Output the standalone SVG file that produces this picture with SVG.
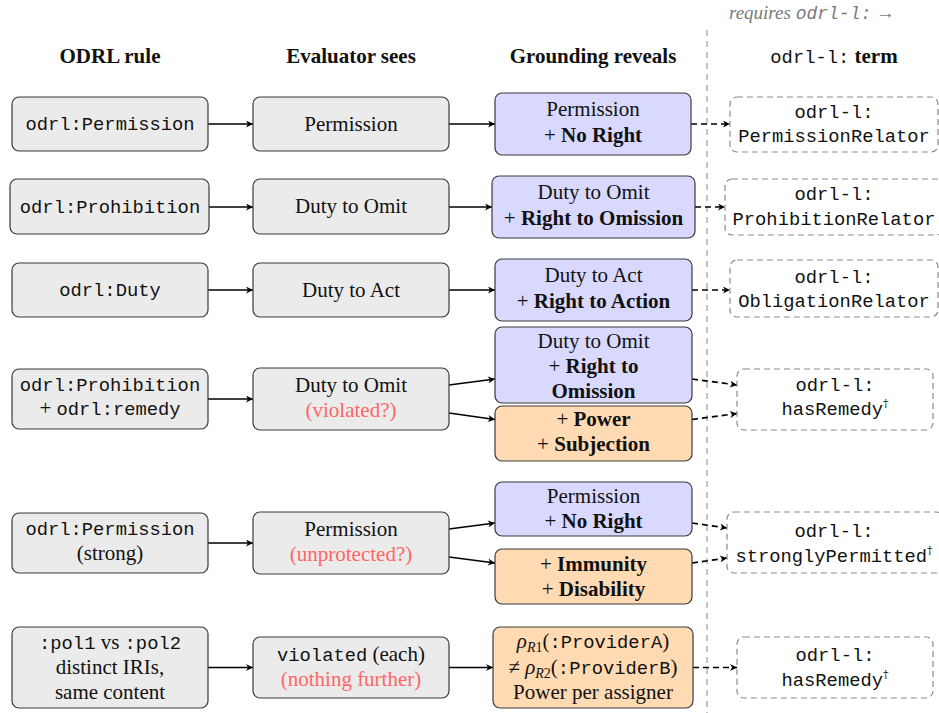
<svg xmlns="http://www.w3.org/2000/svg" width="939" height="713" viewBox="0 0 939 713">
<defs>
<style>
.g{fill:#ebebeb;stroke:#3a3a3a;stroke-width:1.2}
.b{fill:#d9d9ff;stroke:#3a3a3a;stroke-width:1.2}
.o{fill:#ffdab3;stroke:#3a3a3a;stroke-width:1.2}
.t{fill:#ffffff;stroke:#8a8a8a;stroke-width:1.2;stroke-dasharray:6 4}
.s{font-family:"Liberation Serif","Times New Roman",serif;font-size:21px;fill:#111;text-anchor:middle}
.m{font-family:"Liberation Mono","Courier New",monospace;font-size:18.8px;fill:#111;text-anchor:middle}
.mm{font-family:"Liberation Mono","Courier New",monospace;font-size:18.8px}
.bd{font-weight:bold}
.red{fill:#ff6666}
.h{font-family:"Liberation Serif","Times New Roman",serif;font-size:21px;font-weight:bold;fill:#111;text-anchor:middle}
.sup{font-family:"DejaVu Serif",serif;font-size:11px;fill:#111}
.c{fill:none;stroke:#000;stroke-width:1.7}
.d{fill:none;stroke:#000;stroke-width:1.7;stroke-dasharray:6 4}
</style>
<marker id="ah" viewBox="0 0 10 10" refX="10" refY="5" markerWidth="9" markerHeight="7" markerUnits="userSpaceOnUse" orient="auto">
<path d="M0,0 L10,5 L0,10 L3,5 z" fill="#000"/>
</marker>
</defs>
<rect width="939" height="713" fill="#ffffff"/>

<g id="headers">
<text class="h" x="110" y="63">ODRL rule</text>
<text class="h" x="351" y="63">Evaluator sees</text>
<text class="h" x="593" y="63">Grounding reveals</text>
<text class="s" x="834" y="63"><tspan class="mm">odrl-l:</tspan><tspan class="bd"> term</tspan></text>
<text x="812" y="19" style="font-family:'Liberation Serif',serif;font-size:19px;font-style:italic;fill:#7a7a7a;text-anchor:middle">requires <tspan style="font-family:'Liberation Mono',monospace;font-size:18px">odrl-l:</tspan> →</text>
</g>

<line id="divider" x1="707" y1="30" x2="707" y2="713" stroke="#8a8a8a" stroke-width="1" stroke-dasharray="6 5"/>

<g id="connectors">
<line class="c" x1="208" y1="124" x2="253" y2="124" marker-end="url(#ah)"/>
<line class="c" x1="449" y1="124" x2="495" y2="124" marker-end="url(#ah)"/>
<line class="d" x1="691" y1="124" x2="730" y2="124" marker-end="url(#ah)"/>

<line class="c" x1="209" y1="207" x2="253" y2="207" marker-end="url(#ah)"/>
<line class="c" x1="449" y1="207" x2="492" y2="207" marker-end="url(#ah)"/>
<line class="d" x1="695" y1="207" x2="725" y2="207" marker-end="url(#ah)"/>

<line class="c" x1="208" y1="290" x2="253" y2="290" marker-end="url(#ah)"/>
<line class="c" x1="449" y1="290" x2="495" y2="290" marker-end="url(#ah)"/>
<line class="d" x1="692" y1="290" x2="730" y2="290" marker-end="url(#ah)"/>

<line class="c" x1="208" y1="399" x2="253" y2="399" marker-end="url(#ah)"/>
<line class="c" x1="449" y1="385" x2="495" y2="379" marker-end="url(#ah)"/>
<line class="c" x1="449" y1="413" x2="495" y2="419.5" marker-end="url(#ah)"/>
<line class="d" x1="692" y1="379" x2="737" y2="385" marker-end="url(#ah)"/>
<line class="d" x1="692" y1="419.5" x2="737" y2="413.5" marker-end="url(#ah)"/>

<line class="c" x1="208" y1="543" x2="253" y2="543" marker-end="url(#ah)"/>
<line class="c" x1="449" y1="529" x2="495" y2="523" marker-end="url(#ah)"/>
<line class="c" x1="449" y1="557" x2="495" y2="563" marker-end="url(#ah)"/>
<line class="d" x1="692" y1="523" x2="727" y2="528" marker-end="url(#ah)"/>
<line class="d" x1="692" y1="563" x2="727" y2="558" marker-end="url(#ah)"/>

<line class="c" x1="208" y1="667.5" x2="253" y2="667.5" marker-end="url(#ah)"/>
<line class="c" x1="449" y1="667.5" x2="493" y2="667.5" marker-end="url(#ah)"/>
<line class="d" x1="693" y1="667.5" x2="737" y2="667.5" marker-end="url(#ah)"/>
</g>

<!-- Row 1 -->
<g id="r1-rule"><rect class="g" x="12" y="97" width="196" height="54" rx="7"/><text class="m" x="110" y="130">odrl:Permission</text></g>
<g id="r1-eval"><rect class="g" x="253" y="97" width="196" height="54" rx="7"/><text class="s" x="351" y="131">Permission</text></g>
<g id="r1-ground"><rect class="b" x="495" y="93" width="196" height="62" rx="7"/><text class="s" x="593" y="116">Permission</text><text class="s" x="593" y="142">+ <tspan class="bd">No Right</tspan></text></g>
<g id="r1-term"><rect class="t" x="730" y="97" width="208" height="55" rx="7"/><text class="m" x="834" y="118">odrl-l:</text><text class="m" x="834" y="142">PermissionRelator</text></g>

<!-- Row 2 -->
<g id="r2-rule"><rect class="g" x="10" y="179" width="199" height="55" rx="7"/><text class="m" x="110" y="213">odrl:Prohibition</text></g>
<g id="r2-eval"><rect class="g" x="253" y="179" width="196" height="55" rx="7"/><text class="s" x="351" y="213">Duty to Omit</text></g>
<g id="r2-ground"><rect class="b" x="492" y="176" width="203" height="62" rx="7"/><text class="s" x="593.5" y="199">Duty to Omit</text><text class="s" x="593.5" y="225">+ <tspan class="bd">Right to Omission</tspan></text></g>
<g id="r2-term"><rect class="t" x="725" y="179" width="218" height="56" rx="7"/><text class="m" x="834" y="200">odrl-l:</text><text class="m" x="834" y="225">ProhibitionRelator</text></g>

<!-- Row 3 -->
<g id="r3-rule"><rect class="g" x="12" y="263" width="196" height="54" rx="7"/><text class="m" x="110" y="296">odrl:Duty</text></g>
<g id="r3-eval"><rect class="g" x="253" y="263" width="196" height="54" rx="7"/><text class="s" x="351" y="297">Duty to Act</text></g>
<g id="r3-ground"><rect class="b" x="495" y="259" width="197" height="62" rx="7"/><text class="s" x="593.5" y="282">Duty to Act</text><text class="s" x="593.5" y="308">+ <tspan class="bd">Right to Action</tspan></text></g>
<g id="r3-term"><rect class="t" x="730" y="260" width="208" height="57" rx="7"/><text class="m" x="834" y="283">odrl-l:</text><text class="m" x="834" y="307">ObligationRelator</text></g>

<!-- Row 4 -->
<g id="r4-rule"><rect class="g" x="12" y="369" width="196" height="60" rx="7"/><text class="m" x="110" y="391">odrl:Prohibition</text><text class="s" x="110" y="415">+ <tspan class="mm">odrl:remedy</tspan></text></g>
<g id="r4-eval"><rect class="g" x="253" y="368" width="196" height="62" rx="7"/><text class="s" x="351" y="392">Duty to Omit</text><text class="s red" x="351" y="417">(violated?)</text></g>
<g id="r4-ground-a"><rect class="b" x="495" y="327" width="197" height="76" rx="7"/><text class="s" x="593.5" y="348">Duty to Omit</text><text class="s" x="593.5" y="373">+ <tspan class="bd">Right to</tspan></text><text class="s bd" x="593.5" y="398">Omission</text></g>
<g id="r4-ground-b"><rect class="o" x="495" y="406" width="197" height="55" rx="7"/><text class="s" x="593.5" y="426">+ <tspan class="bd">Power</tspan></text><text class="s" x="593.5" y="451">+ <tspan class="bd">Subjection</tspan></text></g>
<g id="r4-term"><rect class="t" x="737" y="369" width="196" height="61" rx="7"/><text class="m" x="835" y="391">odrl-l:</text><text class="m" x="835" y="415">hasRemedy<tspan class="sup" dy="-8">†</tspan></text></g>

<!-- Row 5 -->
<g id="r5-rule"><rect class="g" x="12" y="513" width="196" height="60" rx="7"/><text class="m" x="110" y="535">odrl:Permission</text><text class="s" x="110" y="560">(strong)</text></g>
<g id="r5-eval"><rect class="g" x="253" y="512" width="196" height="62" rx="7"/><text class="s" x="351" y="536">Permission</text><text class="s red" x="351" y="561">(unprotected?)</text></g>
<g id="r5-ground-a"><rect class="b" x="495" y="482" width="197" height="54" rx="7"/><text class="s" x="593.5" y="503">Permission</text><text class="s" x="593.5" y="528">+ <tspan class="bd">No Right</tspan></text></g>
<g id="r5-ground-b"><rect class="o" x="495" y="549" width="197" height="55" rx="7"/><text class="s" x="593.5" y="571">+ <tspan class="bd">Immunity</tspan></text><text class="s" x="593.5" y="596">+ <tspan class="bd">Disability</tspan></text></g>
<g id="r5-term"><rect class="t" x="727" y="512" width="216" height="61" rx="7"/><text class="m" x="834" y="537">odrl-l:</text><text class="m" x="834" y="562">stronglyPermitted<tspan class="sup" dy="-8">†</tspan></text></g>

<!-- Row 6 -->
<g id="r6-rule"><rect class="g" x="12" y="627" width="196" height="81" rx="7"/><text class="s" x="110" y="649"><tspan class="mm">:pol1</tspan> vs <tspan class="mm">:pol2</tspan></text><text class="s" x="110" y="674">distinct IRIs,</text><text class="s" x="110" y="699">same content</text></g>
<g id="r6-eval"><rect class="g" x="253" y="637" width="196" height="61" rx="7"/><text class="s" x="351" y="661"><tspan class="mm">violated</tspan> (each)</text><text class="s red" x="351" y="686">(nothing further)</text></g>
<g id="r6-ground"><rect class="o" x="493" y="627" width="200" height="81" rx="7"/><text class="s" x="593" y="648"><tspan font-style="italic">ρ</tspan><tspan font-size="14" dy="4"><tspan font-style="italic">R</tspan>1</tspan><tspan dy="-4">(</tspan><tspan class="mm">:ProviderA</tspan>)</text><text class="s" x="593" y="674">≠  <tspan font-style="italic">ρ</tspan><tspan font-size="14" dy="4"><tspan font-style="italic">R</tspan>2</tspan><tspan dy="-4">(</tspan><tspan class="mm">:ProviderB</tspan>)</text><text class="s" x="593" y="699">Power per assigner</text></g>
<g id="r6-term"><rect class="t" x="737" y="637" width="196" height="61" rx="7"/><text class="m" x="835" y="661">odrl-l:</text><text class="m" x="835" y="686">hasRemedy<tspan class="sup" dy="-8">†</tspan></text></g>
</svg>
